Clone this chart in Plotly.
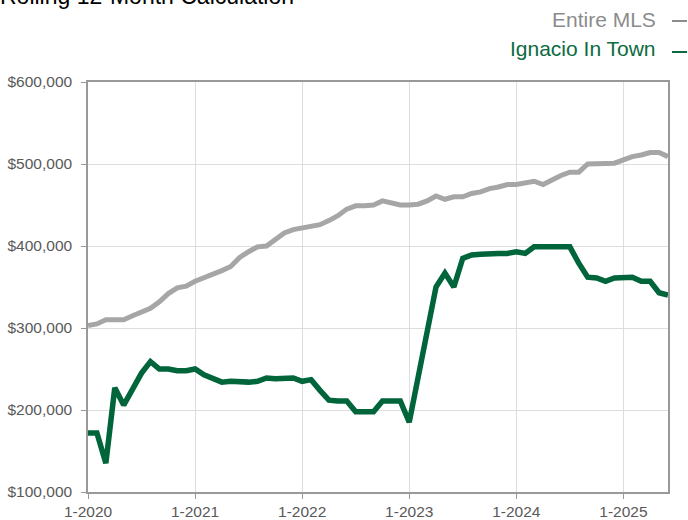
import plotly.graph_objects as go

years = [2020, 2021, 2022, 2023, 2024, 2025]
months = [f"{m}-{y}" for y in years for m in range(1, 13)][:66]
tick_labels = ["1-2020", "1-2021", "1-2022", "1-2023", "1-2024", "1-2025"]
y_ticks = [100000, 200000, 300000, 400000, 500000, 600000]
y_tick_labels = ["$100,000", "$200,000", "$300,000", "$400,000", "$500,000", "$600,000"]

entire_mls = [
    303000, 305000, 310000, 310000, 310000, 315000, 320000, 324000, 332000, 342000,
    349000, 351000, 357000, 361000, 366000, 370000, 375000, 386000, 393000, 399000,
    400000, 408000, 416000, 420000, 422000, 425000, 426000, 431000, 437000, 445000,
    449000, 449000, 450000, 455000, 452000, 450000, 450000, 451000, 455000, 461000,
    457000, 460000, 460000, 464000, 466000, 470000, 472000, 475000, 475000, 477000,
    479000, 475000, 481000, 486000, 490000, 490000, 500000, 500000, 500000, 501000,
    505000, 509000, 511000, 514000, 514000, 509000,
]
ignacio = [
    172000, 172000, 135000, 227000, 206000, 227000, 245000, 259000, 250000, 250000,
    248000, 248000, 250000, 243000, 238000, 234000, 235000, 234000, 234000, 235000,
    239000, 238000, 238000, 239000, 235000, 237000, 224000, 212000, 211000, 211000,
    198000, 198000, 198000, 211000, 211000, 211000, 185000, 240000, 289000, 350000,
    367000, 350000, 385000, 389000, 390000, 391000, 391000, 391000, 393000, 391000,
    399000, 399000, 399000, 399000, 399000, 379000, 362000, 361000, 357000, 361000,
    361000, 362000, 357000, 357000, 343000, 340000,
]

GRAY = "#a6a6a6"
GREEN = "#00653a"

fig = go.Figure()
fig.add_trace(go.Scatter(x=months, y=entire_mls, mode="lines", name="Entire MLS",
                         line=dict(color=GRAY, width=5)))
fig.add_trace(go.Scatter(x=months, y=ignacio, mode="lines", name="Ignacio In Town",
                         line=dict(color=GREEN, width=5.5)))

L, R, T, B = 88, 20, 82, 28
W, H = 688, 520
pw, ph = W - L - R, H - T - B

def px_x(p):
    return (p - L) / pw

def px_y(p):
    return 1 - (p - T) / ph

fig.update_layout(
    width=W, height=H,
    margin=dict(l=L, r=R, t=T, b=B),
    paper_bgcolor="white", plot_bgcolor="white",
    showlegend=False,
    font=dict(family="Liberation Sans, Arial, sans-serif", size=15, color="#595959"),
)
fig.update_xaxes(
    type="category", range=[0, 65], automargin=False,
    tickmode="array", tickvals=tick_labels, ticktext=tick_labels,
    showgrid=True, gridcolor="#dedede", gridwidth=1,
    showline=True, linecolor="#999999", linewidth=1.5, mirror=True,
    ticks="outside", ticklen=5, tickcolor="#999999",
    tickfont=dict(size=15.5, color="#595959"),
)
fig.update_yaxes(
    range=[100000, 600000], automargin=False,
    tickmode="array", tickvals=y_ticks, ticktext=y_tick_labels,
    showgrid=True, gridcolor="#dedede", gridwidth=1,
    showline=True, linecolor="#999999", linewidth=1.5, mirror=True,
    ticks="outside", ticklen=5, tickcolor="#999999",
    tickfont=dict(size=15.5, color="#595959"),
    ticklabelstandoff=6,
    zeroline=False,
)

# title (partially cut at top)
fig.add_annotation(
    text="Rolling 12-Month Calculation", xref="paper", yref="paper",
    x=px_x(-2), y=px_y(11), xanchor="left", yanchor="bottom", showarrow=False,
    font=dict(size=23, color="#000000"),
)
# legend texts
fig.add_annotation(
    text="Entire MLS", xref="paper", yref="paper",
    x=px_x(658), y=px_y(19), xanchor="right", yanchor="middle", showarrow=False,
    font=dict(size=21, color="#8c8c8c"),
)
fig.add_annotation(
    text="Ignacio In Town", xref="paper", yref="paper",
    x=px_x(658), y=px_y(49), xanchor="right", yanchor="middle", showarrow=False,
    font=dict(size=21, color="#0b6b3e"),
)
fig.add_shape(type="line", xref="paper", yref="paper",
              x0=px_x(672), x1=px_x(687), y0=px_y(21), y1=px_y(21),
              line=dict(color="#8c8c8c", width=2))
fig.add_shape(type="line", xref="paper", yref="paper",
              x0=px_x(672), x1=px_x(687), y0=px_y(52), y1=px_y(52),
              line=dict(color="#0b6b3e", width=2))

fig.write_html(
    "out.html",
    config={"displayModeBar": False},
    post_script="document.body.style.margin='0';document.body.style.overflow='hidden';",
)
